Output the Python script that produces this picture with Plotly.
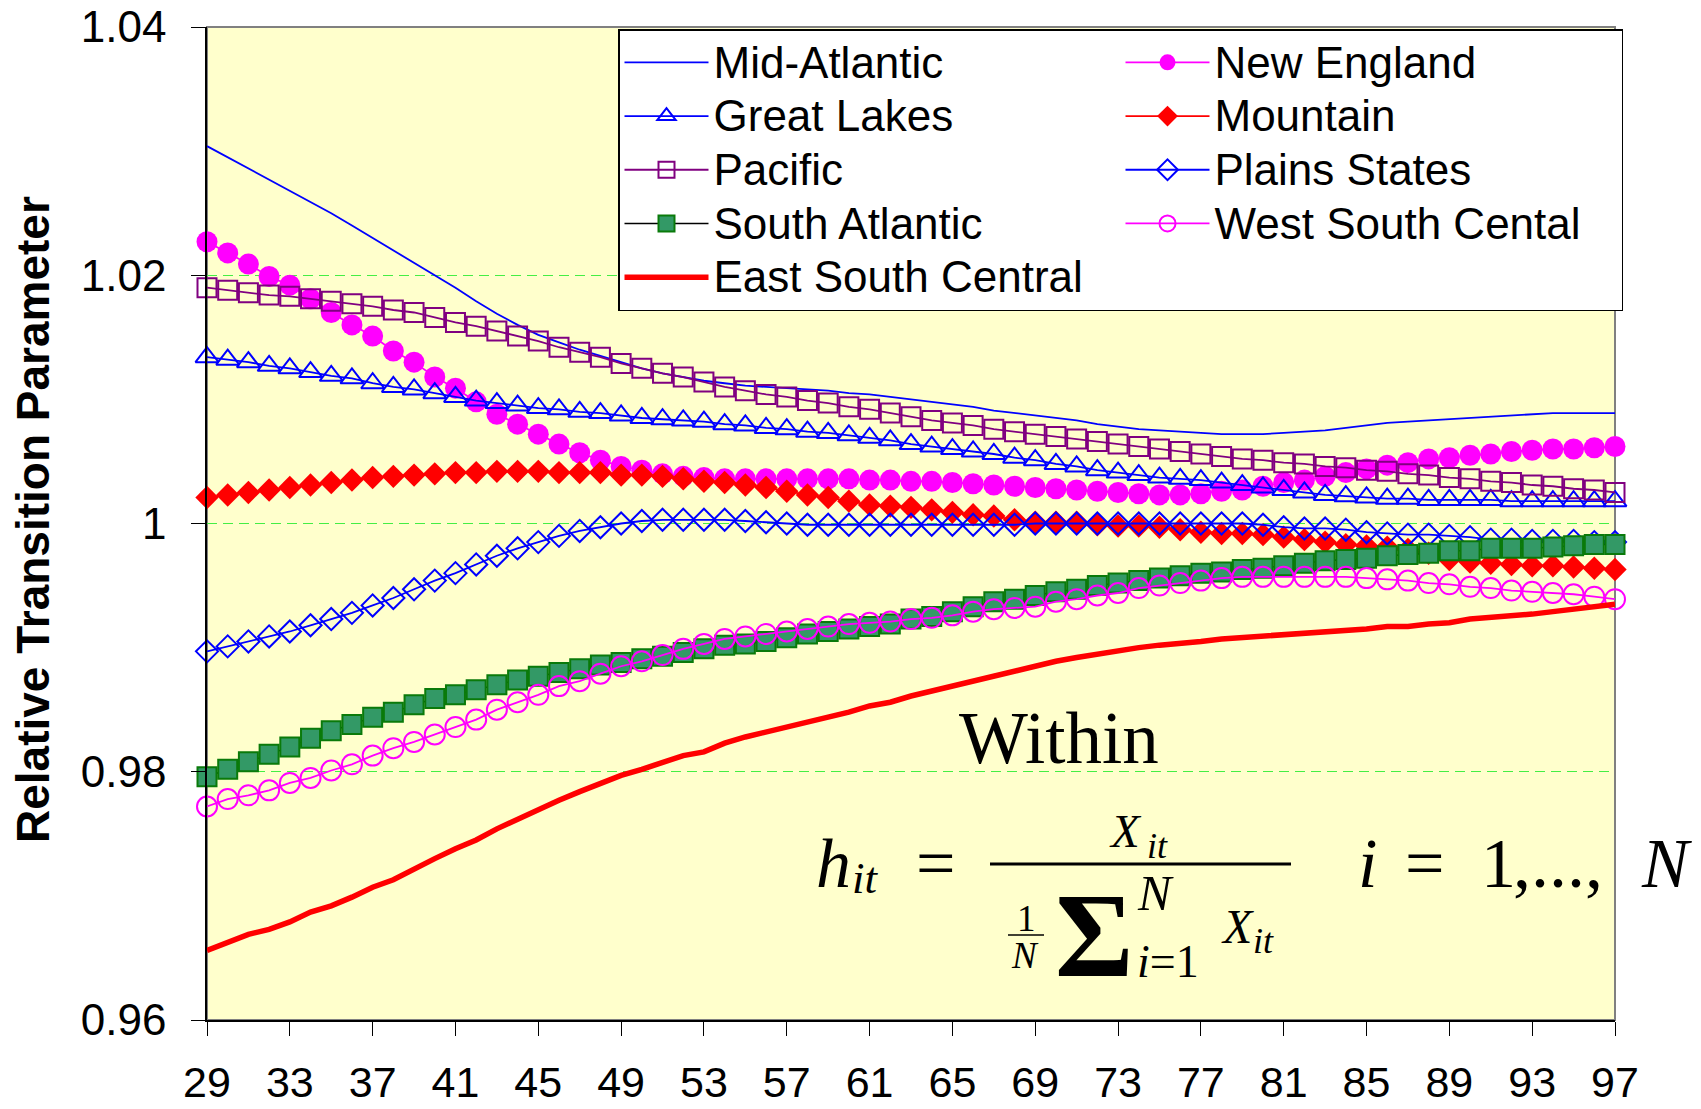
import plotly.graph_objects as go

# ---- data -------------------------------------------------------------
years = list(range(29, 98))

mid_atlantic = [
    1.0304, 1.0295, 1.0286, 1.0277, 1.0268, 1.0259, 1.0250, 1.0240, 1.0230, 1.0220,
    1.0210, 1.0200, 1.0190, 1.0179, 1.0169, 1.0160, 1.0152, 1.0146, 1.0140, 1.0135,
    1.0130, 1.0125, 1.0121, 1.0118, 1.0115, 1.0113, 1.0111, 1.0110, 1.0109, 1.0108,
    1.0107, 1.0105, 1.0104, 1.0102, 1.0100, 1.0098, 1.0096, 1.0094, 1.0091, 1.0089,
    1.0087, 1.0085, 1.0083, 1.0080, 1.0078, 1.0076, 1.0075, 1.0074, 1.0073, 1.0072,
    1.0072, 1.0072, 1.0073, 1.0074, 1.0075, 1.0077, 1.0079, 1.0081, 1.0082, 1.0083,
    1.0084, 1.0085, 1.0086, 1.0087, 1.0088, 1.0089, 1.0089, 1.0089, 1.0089]

new_england = [
    1.0227, 1.0218, 1.0209, 1.0199, 1.0192, 1.0181, 1.0170, 1.0160, 1.0151, 1.0139,
    1.0130, 1.0118, 1.0109, 1.0098, 1.0088, 1.0080, 1.0072, 1.0064, 1.0057, 1.0051,
    1.0046, 1.0043, 1.0040, 1.0038, 1.0037, 1.0036, 1.0036, 1.0036, 1.0036, 1.0036,
    1.0036, 1.0036, 1.0035, 1.0035, 1.0034, 1.0034, 1.0033, 1.0032, 1.0031, 1.0030,
    1.0029, 1.0028, 1.0027, 1.0026, 1.0025, 1.0024, 1.0023, 1.0023, 1.0024, 1.0026,
    1.0027, 1.0030, 1.0033, 1.0035, 1.0038, 1.0041, 1.0044, 1.0047, 1.0049, 1.0052,
    1.0053, 1.0055, 1.0056, 1.0058, 1.0059, 1.0060, 1.0060, 1.0061, 1.0062]

great_lakes = [
    1.0134, 1.0132, 1.0130, 1.0127, 1.0125, 1.0122, 1.0119, 1.0117, 1.0113, 1.0110,
    1.0108, 1.0105, 1.0102, 1.0099, 1.0097, 1.0095, 1.0093, 1.0092, 1.0090, 1.0089,
    1.0087, 1.0085, 1.0084, 1.0083, 1.0082, 1.0080, 1.0079, 1.0077, 1.0076, 1.0074,
    1.0073, 1.0071, 1.0069, 1.0067, 1.0064, 1.0062, 1.0060, 1.0058, 1.0056, 1.0053,
    1.0051, 1.0048, 1.0046, 1.0043, 1.0041, 1.0039, 1.0037, 1.0036, 1.0035, 1.0033,
    1.0031, 1.0029, 1.0027, 1.0025, 1.0023, 1.0022, 1.0021, 1.0020, 1.0020, 1.0019,
    1.0019, 1.0019, 1.0019, 1.0018, 1.0018, 1.0018, 1.0018, 1.0018, 1.0018]

mountain = [
    1.0021, 1.0023, 1.0025, 1.0027, 1.0029, 1.0031, 1.0033, 1.0035, 1.0037, 1.0038,
    1.0039, 1.0040, 1.0041, 1.0041, 1.0042, 1.0042, 1.0042, 1.0041, 1.0041, 1.0041,
    1.0039, 1.0039, 1.0038, 1.0036, 1.0034, 1.0033, 1.0031, 1.0029, 1.0026, 1.0023,
    1.0021, 1.0018, 1.0015, 1.0014, 1.0013, 1.0011, 1.0009, 1.0007, 1.0006, 1.0003,
    1.0001, 1.0001, 1.0001, 0.9999, 0.9998, 0.9998, 0.9997, 0.9995, 0.9993, 0.9992,
    0.9992, 0.9991, 0.9989, 0.9987, 0.9985, 0.9983, 0.9982, 0.9981, 0.9979, 0.9976,
    0.9971, 0.9969, 0.9968, 0.9967, 0.9966, 0.9966, 0.9965, 0.9964, 0.9963]

pacific = [
    1.0190, 1.0188, 1.0186, 1.0184, 1.0183, 1.0181, 1.0179, 1.0177, 1.0175, 1.0172,
    1.0170, 1.0166, 1.0162, 1.0159, 1.0155, 1.0151, 1.0147, 1.0142, 1.0138, 1.0134,
    1.0129, 1.0125, 1.0121, 1.0118, 1.0114, 1.0110, 1.0107, 1.0104, 1.0102, 1.0099,
    1.0097, 1.0094, 1.0092, 1.0089, 1.0086, 1.0083, 1.0081, 1.0079, 1.0076, 1.0074,
    1.0072, 1.0070, 1.0068, 1.0066, 1.0064, 1.0062, 1.0060, 1.0058, 1.0056, 1.0054,
    1.0052, 1.0051, 1.0049, 1.0048, 1.0046, 1.0045, 1.0043, 1.0042, 1.0040, 1.0039,
    1.0037, 1.0036, 1.0034, 1.0033, 1.0031, 1.0030, 1.0028, 1.0027, 1.0025]

plains_states = [
    0.9897, 0.9901, 0.9905, 0.9909, 0.9913, 0.9918, 0.9923, 0.9928, 0.9934, 0.9940,
    0.9947, 0.9954, 0.9960, 0.9967, 0.9974, 0.9980, 0.9985, 0.9990, 0.9994, 0.9997,
    1.0000, 1.0002, 1.0003, 1.0003, 1.0003, 1.0003, 1.0002, 1.0001, 1.0000, 0.9999,
    0.9999, 0.9999, 0.9999, 0.9999, 0.9999, 0.9999, 0.9999, 0.9999, 0.9999, 0.9999,
    1.0000, 1.0000, 1.0000, 1.0000, 1.0000, 1.0000, 1.0000, 1.0000, 1.0000, 1.0000,
    1.0000, 0.9999, 0.9997, 0.9996, 0.9996, 0.9995, 0.9993, 0.9992, 0.9991, 0.9991,
    0.9990, 0.9989, 0.9987, 0.9987, 0.9986, 0.9986, 0.9986, 0.9985, 0.9985]

south_atlantic = [
    0.9796, 0.9802, 0.9808, 0.9814, 0.9820, 0.9827, 0.9833, 0.9838, 0.9844, 0.9848,
    0.9854, 0.9859, 0.9862, 0.9866, 0.9870, 0.9874, 0.9877, 0.9880, 0.9883, 0.9886,
    0.9888, 0.9891, 0.9893, 0.9896, 0.9899, 0.9902, 0.9903, 0.9905, 0.9908, 0.9911,
    0.9913, 0.9915, 0.9917, 0.9919, 0.9923, 0.9925, 0.9929, 0.9933, 0.9937, 0.9939,
    0.9942, 0.9945, 0.9947, 0.9950, 0.9952, 0.9954, 0.9956, 0.9958, 0.9960, 0.9961,
    0.9963, 0.9964, 0.9966, 0.9968, 0.9970, 0.9971, 0.9972, 0.9974, 0.9975, 0.9976,
    0.9978, 0.9978, 0.9980, 0.9980, 0.9980, 0.9981, 0.9982, 0.9983, 0.9983]

west_south_cental = [
    0.9772, 0.9778, 0.9781, 0.9785, 0.9791, 0.9795, 0.9801, 0.9806, 0.9813, 0.9819,
    0.9824, 0.9830, 0.9836, 0.9842, 0.9850, 0.9856, 0.9862, 0.9869, 0.9873, 0.9879,
    0.9885, 0.9889, 0.9894, 0.9899, 0.9903, 0.9907, 0.9909, 0.9911, 0.9913, 0.9915,
    0.9917, 0.9919, 0.9920, 0.9921, 0.9923, 0.9924, 0.9926, 0.9929, 0.9931, 0.9932,
    0.9933, 0.9937, 0.9939, 0.9942, 0.9944, 0.9948, 0.9950, 0.9952, 0.9954, 0.9956,
    0.9957, 0.9957, 0.9957, 0.9957, 0.9957, 0.9957, 0.9956, 0.9955, 0.9954, 0.9952,
    0.9951, 0.9949, 0.9948, 0.9946, 0.9945, 0.9944, 0.9943, 0.9941, 0.9939]

east_south_central = [
    0.9656, 0.9663, 0.9669, 0.9673, 0.9679, 0.9687, 0.9692, 0.9699, 0.9707, 0.9713,
    0.9722, 0.9730, 0.9738, 0.9745, 0.9754, 0.9762, 0.9770, 0.9777, 0.9784, 0.9791,
    0.9797, 0.9802, 0.9807, 0.9813, 0.9816, 0.9823, 0.9828, 0.9832, 0.9836, 0.9840,
    0.9843, 0.9848, 0.9853, 0.9856, 0.9861, 0.9865, 0.9869, 0.9874, 0.9878, 0.9881,
    0.9885, 0.9889, 0.9892, 0.9895, 0.9897, 0.9900, 0.9902, 0.9903, 0.9905, 0.9907,
    0.9908, 0.9910, 0.9911, 0.9912, 0.9913, 0.9914, 0.9915, 0.9917, 0.9917, 0.9919,
    0.9920, 0.9923, 0.9924, 0.9926, 0.9927, 0.9929, 0.9931, 0.9933, 0.9935]

x_tick_vals = list(range(29, 98, 4))
y_tick_vals = [0.96, 0.98, 1.00, 1.02, 1.04]
y_tick_labels = ["0.96", "0.98", "1", "1.02", "1.04"]
y_title = "Relative Transition Parameter"

# ---- styling ------------------------------------------------------------
BLUE, PURPLE, MAGENTA, RED = "#0000FF", "#800080", "#FF00FF", "#FF0000"
SANS = "Liberation Sans, Arial, sans-serif"
SERIF = "Liberation Serif, Times New Roman, serif"

W, H = 1701, 1109
L, R, T, B = 207, 1615, 27, 1020  # plot-area edges in pixels


def px(x):
    return (x - L) / (R - L)


def py(y):
    return (B - y) / (B - T)


def legend_label(name):
    # legend rows are spaced by the legend font size; the label itself is drawn larger
    return f'<span style="font-size:44px">{name}</span>'


fig = go.Figure()

# (name, values, line dict, marker dict or None) -- order fills the legend row by row
series = [
    ("Mid-Atlantic", mid_atlantic, dict(color=BLUE, width=1.8), None),
    ("New England", new_england, dict(color=MAGENTA, width=1.8),
     dict(symbol="circle", size=21, color=MAGENTA, line=dict(width=0))),
    ("Great Lakes", great_lakes, dict(color=BLUE, width=1.8),
     dict(symbol="triangle-up-open", size=20, color=BLUE, line=dict(width=2))),
    ("Mountain", mountain, dict(color=RED, width=1.8),
     dict(symbol="diamond", size=18, color=RED, line=dict(width=0))),
    ("Pacific", pacific, dict(color=PURPLE, width=1.8),
     dict(symbol="square-open", size=19, color=PURPLE, line=dict(width=2))),
    ("Plains States", plains_states, dict(color=BLUE, width=1.8),
     dict(symbol="diamond-open", size=17, color=BLUE, line=dict(width=2))),
    ("South Atlantic", south_atlantic, dict(color="#000000", width=1.5),
     dict(symbol="square", size=19, color="#339966", line=dict(width=2, color="#0A7A0A"))),
    ("West South Cental", west_south_cental, dict(color=MAGENTA, width=1.8),
     dict(symbol="circle-open", size=20, color=MAGENTA, line=dict(width=2))),
    ("East South Central", east_south_central, dict(color=RED, width=5.5), None),
]

for name, vals, line, marker in series:
    fig.add_trace(go.Scatter(
        x=years, y=vals, name=legend_label(name),
        mode="lines+markers" if marker else "lines",
        line=line, marker=marker, cliponaxis=False,
    ))

# plot frame: grey top/right border
fig.add_shape(type="rect", xref="paper", yref="paper", x0=0, x1=1, y0=0, y1=1,
              line=dict(color="#808080", width=2), layer="below")

fig.update_layout(
    width=W, height=H,
    margin=dict(l=L, r=W - R, t=T, b=H - B, pad=0, autoexpand=False),
    paper_bgcolor="white",
    plot_bgcolor="#FFFFCC",
    font=dict(family=SANS, color="black"),
    showlegend=True,
    legend=dict(
        orientation="h", x=px(618), y=py(29), xanchor="left", yanchor="top",
        bgcolor="white", bordercolor="black", borderwidth=1.5,
        font=dict(family=SANS, size=39, color="black"),
        entrywidth=402, entrywidthmode="pixels", itemwidth=84,
        traceorder="normal", tracegroupgap=0,
    ),
    xaxis=dict(
        range=[29, 97], tickvals=x_tick_vals, showgrid=False, zeroline=False,
        showline=True, linecolor="black", linewidth=1.5, automargin=False,
        ticks="outside", ticklen=14, tickwidth=1.2, tickcolor="black",
        tickfont=dict(family=SANS, size=43, color="black"),
        ticklabelstandoff=10,
    ),
    yaxis=dict(
        range=[0.96, 1.04], tickvals=y_tick_vals, ticktext=y_tick_labels,
        showgrid=True, gridcolor="#44EE44", gridwidth=1.2, griddash="10px,6px",
        zeroline=False, showline=True, linecolor="black", linewidth=1.5, automargin=False,
        ticks="outside", ticklen=14, tickwidth=1.2, tickcolor="black",
        tickfont=dict(family=SANS, size=44, color="black"),
        ticklabelstandoff=16,
    ),
)

# rotated axis title
fig.add_annotation(text=f"<b>{y_title}</b>", x=px(33), y=py(520), xref="paper", yref="paper",
                   xanchor="center", yanchor="middle", textangle=-90, showarrow=False,
                   font=dict(family=SANS, size=46, color="black"))


def serif(text, x_left, baseline, size):
    """Place serif text by its left edge and baseline (pixel coordinates)."""
    fig.add_annotation(text=text, x=px(x_left), y=py(baseline - 0.3375 * size),
                       xref="paper", yref="paper", xanchor="left", yanchor="middle",
                       showarrow=False, borderpad=0,
                       font=dict(family=SERIF, size=size, color="black"))


def bar(x0, x1, y, width):
    fig.add_shape(type="line", xref="paper", yref="paper", x0=px(x0), x1=px(x1),
                  y0=py(y), y1=py(y), line=dict(color="black", width=width), layer="above")


serif("Within", 958, 763, 73)

# h_it = X_it / (1/N * sum_{i=1}^N X_it)    i = 1,...,N
serif("<i>h</i>", 815, 887, 70)
serif("<i>it</i>", 851, 893, 45)
serif("=", 915, 887, 70)
bar(990, 1291, 864, 3)
serif("<i>X</i>", 1108, 847, 47)
serif("<i>it</i>", 1146, 858, 36)
serif("1", 1016, 931, 37)
bar(1008, 1044, 935, 1.6)
serif("<i>N</i>", 1010, 968, 37)
serif("<b>Σ</b>", 1054, 976, 120)
serif("<i>N</i>", 1136, 910, 50)
serif("<i>i</i>=1", 1136, 977, 46)
serif("<i>X</i>", 1220, 943, 48)
serif("<i>it</i>", 1252, 953, 36)
serif("<i>i</i>", 1357, 887, 70)
serif("=", 1404, 887, 70)
serif("1", 1480, 887, 70)
serif(",...,", 1512, 887, 72)
serif("<i>N</i>", 1640, 887, 70)

fig.write_html("out.html", include_plotlyjs=True,
               post_script="document.body.style.margin='0';")
